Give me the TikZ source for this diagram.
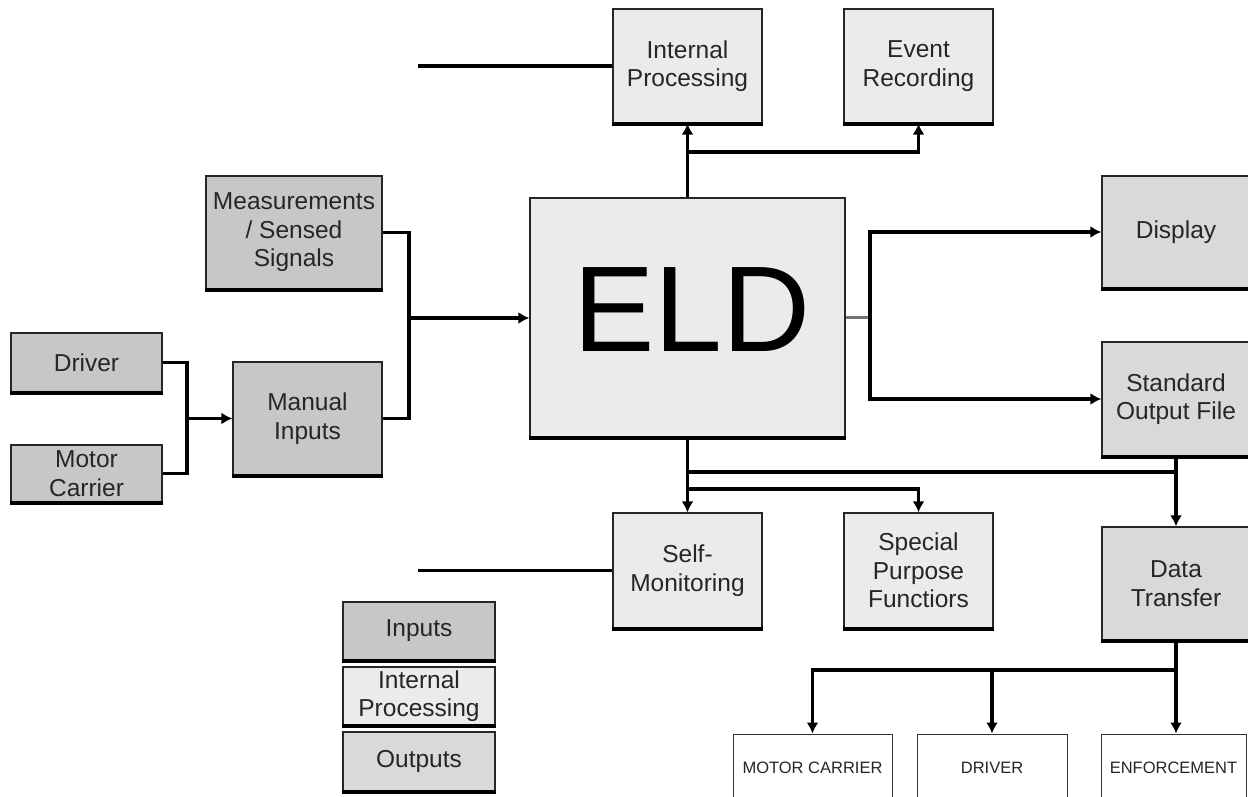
\documentclass[tikz,border=0pt]{standalone}
\usepackage{fontspec}
\setmainfont{Liberation Sans}
\usetikzlibrary{arrows.meta}
\definecolor{ininp}{gray}{0.78}
\definecolor{inint}{gray}{0.92}
\definecolor{inout}{gray}{0.85}
\begin{document}
\begin{tikzpicture}[x=1pt,y=-1pt,
  box/.style={draw=black!85, line width=1.3pt, inner sep=0pt, align=center,
    text=black!85, font=\fontsize{24.5}{28.5}\selectfont},
  inpbox/.style={box, fill=ininp},
  intbox/.style={box, fill=inint},
  outbox/.style={box, fill=inout},
  recvbox/.style={draw=black!80, line width=1pt, fill=white, inner sep=0pt,
    text=black!85, font=\fontsize{16.5}{19}\selectfont},
  conn/.style={draw=black, line width=3.4pt},
  arr/.style={conn, -{Latex[length=11pt,width=12pt]}},
  stub/.style={draw=black!55, line width=3.4pt},
  bottomedge/.style={draw=black, line width=4pt}
]
\useasboundingbox[fill=white] (0,0) rectangle (1248,797);

% boxes
\node[intbox, minimum width=149pt, minimum height=114pt] (ip) at (687.5,66) {Internal\\Processing};
\node[intbox, minimum width=149pt, minimum height=114pt] (er) at (918.5,66) {Event\\Recording};
\node[inpbox, minimum width=176pt, minimum height=113pt] (meas) at (294,232.5) {Measurements\\/ Sensed\\Signals};
\node[intbox, minimum width=315pt, minimum height=239pt] (eld) at (687.5,317.5) {};
\node[text=black, font=\fontsize{122}{130}\selectfont, inner sep=0pt] (eldtext) at (692,310) {ELD};
\node[outbox, minimum width=148pt, minimum height=112pt] (disp) at (1176,232) {Display};
\node[outbox, minimum width=148pt, minimum height=114pt] (sof) at (1176,399) {Standard\\Output File};
\node[inpbox, minimum width=151pt, minimum height=59pt] (drv) at (86.5,362.5) {Driver};
\node[inpbox, minimum width=151pt, minimum height=57pt] (mc) at (86.5,473.5) {Motor\\Carrier};
\node[inpbox, minimum width=149pt, minimum height=113pt] (man) at (307.5,418.5) {Manual\\Inputs};
\node[intbox, minimum width=149pt, minimum height=115pt] (sm) at (687.5,570.5) {Self-\\Monitoring};
\node[intbox, minimum width=149pt, minimum height=115pt] (spf) at (918.5,570.5) {Special\\Purpose\\Functiors};
\node[outbox, minimum width=148pt, minimum height=113pt] (dt) at (1176,583.5) {Data\\Transfer};
\node[inpbox, minimum width=152pt, minimum height=58pt] (leg1) at (419,631) {Inputs};
\node[intbox, minimum width=152pt, minimum height=58pt] (leg2) at (419,696) {Internal\\Processing};
\node[outbox, minimum width=152pt, minimum height=59pt] (leg3) at (419,761.5) {Outputs};
\node[recvbox, minimum width=159pt, minimum height=68pt] (bmc) at (812.5,768) {MOTOR CARRIER};
\node[recvbox, minimum width=150pt, minimum height=68pt] (bdrv) at (992,768) {DRIVER};
\node[recvbox, minimum width=145pt, minimum height=68pt] (benf) at (1173.5,768) {ENFORCEMENT};

% thick bottom edges
\foreach \n in {ip,er,meas,eld,disp,sof,drv,mc,man,sm,spf,dt,leg1,leg2,leg3}
  \draw[bottomedge] (\n.south west) -- (\n.south east);

% junction coordinates
\coordinate (lt) at (418,66);
\coordinate (jt) at (687.5,152);
\coordinate (jm) at (409,318);
\coordinate (jd) at (187,418.5);
\coordinate (jr) at (870,317.5);
\coordinate (jb1) at (687.5,472);
\coordinate (jb2) at (687.5,489);
\coordinate (jdt) at (1176,670);
\coordinate (ls) at (418,570.5);

% connectors
\draw[conn] (lt) -- (ip.west);
\draw[arr] (eld.north) -- (ip.south);
\draw[arr] (jt) -| (er.south);

\draw[conn] (meas.east) -| (jm) |- (man.east);
\draw[arr] (jm) -- (jm -| eld.west);
\draw[conn] (drv.east) -| (jd) |- (mc.east);
\draw[arr] (jd) -- (man.west);

\draw[stub] (eld.east) -- (jr);
\draw[arr] (jr) |- (disp.west);
\draw[arr] (jr) |- (sof.west);

\draw[arr] (eld.south) -- (sm.north);
\draw[conn] (jb1) -- (jb1 -| sof.south);
\draw[arr] (jb2) -| (spf.north);
\draw[arr] (sof.south) -- (dt.north);

\draw[arr] (dt.south) -- (dt.south |- benf.north);
\draw[arr] (jdt) -| (bmc.north);
\draw[arr] (jdt -| bdrv.north) -- (bdrv.north);

\draw[conn] (ls) -- (sm.west);
\end{tikzpicture}
\end{document}
